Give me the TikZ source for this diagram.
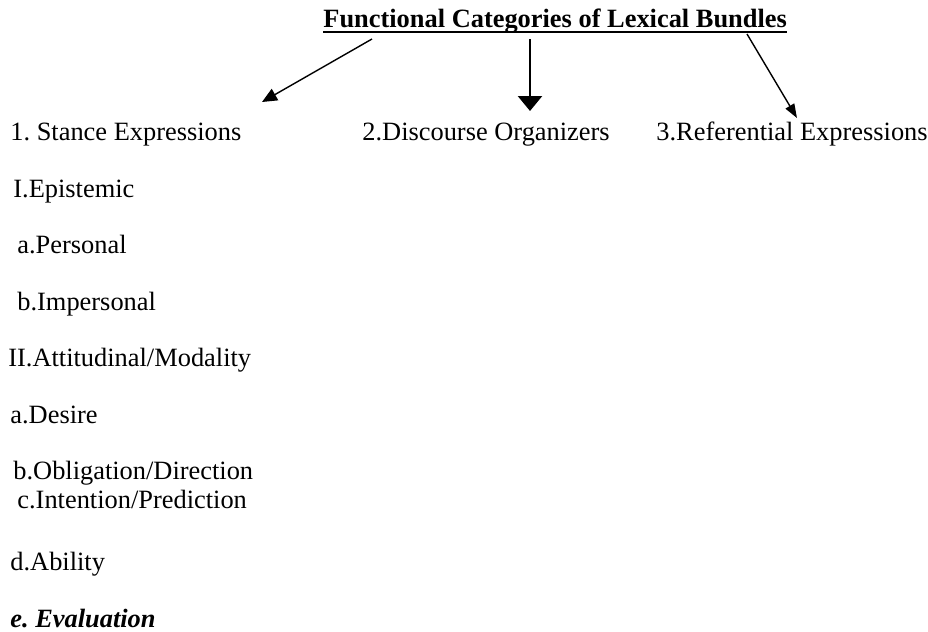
\documentclass[tikz,border=0pt]{standalone}
\usepackage{fontspec}
\setmainfont{Liberation Serif}
\usetikzlibrary{positioning, arrows.meta}
\frenchspacing

\begin{document}
\begin{tikzpicture}[
        x=0.5pt, y=-0.5pt,
        item/.style={anchor=base west, inner sep=0pt, font=\fontsize{13.2}{15}\selectfont\frenchspacing},
        heading/.style={item, font=\fontsize{13.2}{15}\selectfont\bfseries},
        thinarrow/.style={line width=0.7pt, -{Triangle[length=7.5pt, width=6.5pt]}},
        thickarrow/.style={line width=1.3pt, -{Triangle[length=7.5pt, width=12pt]}}
    ]
    \useasboundingbox (0,0) rectangle (928,632);

    % Title
    \node[heading] (title) at (323,27) {Functional Categories of Lexical Bundles};
    \draw[line width=1pt] ([yshift=-2.5pt]title.base west) -- ([yshift=-2.5pt]title.base east);

    % Main categories
    \node[item] (stance) at (10,140) {1. Stance Expressions};
    \node[item] (discourse) at (362,140) {2.Discourse Organizers};
    \node[item] (referential) at (656,140) {3.Referential Expressions};

    % Stance sub-types
    \node[item] (epistemic) at (13,197) {I.Epistemic};
    \node[item] (personal) at (17,253) {a.Personal};
    \node[item] (impersonal) at (17,310) {b.Impersonal};
    \node[item] (attitudinal) at (8,366) {II.Attitudinal/Modality};
    \node[item] (desire) at (10,423) {a.Desire};
    \node[item] (obligation) at (13,479) {b.Obligation/Direction};
    \node[item] (intention) at (17,508) {c.Intention/Prediction};
    \node[item] (ability) at (10,570) {d.Ability};
    \node[item] (evaluation) at (10,627) {\bfseries\itshape e. Evaluation};

    % Arrows from the title
    \coordinate (stancefrom) at (372,39);
    \coordinate (stanceto) at (262,102);
    \coordinate (discoursefrom) at (530,39);
    \coordinate (discourseto) at (530,111);
    \coordinate (referentialfrom) at (747,34);
    \coordinate (referentialto) at (797,118);
    \draw[thinarrow] (stancefrom) -- (stanceto);
    \draw[thickarrow] (discoursefrom) -- (discourseto);
    \draw[thinarrow, -{Triangle[length=7pt, width=5pt]}] (referentialfrom) -- (referentialto);
\end{tikzpicture}
\end{document}
